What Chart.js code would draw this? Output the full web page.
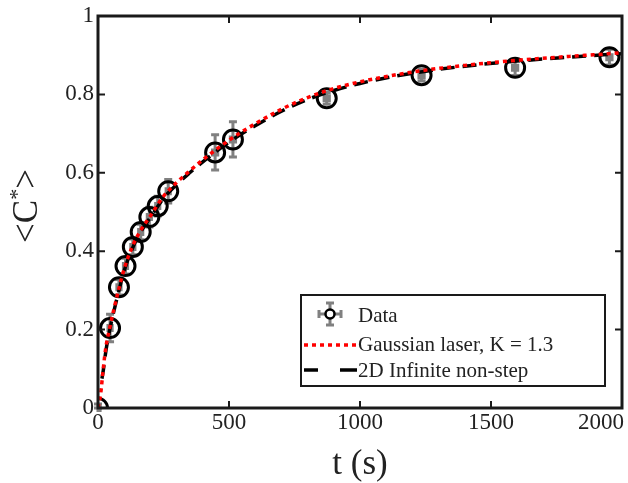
<!DOCTYPE html>
<html>
<head>
    <title>C* recovery</title>
    <script src="https://cdn.jsdelivr.net/npm/chart.js"></script>
    <style>
        body { margin: 0; background: #fff; }
    </style>
</head>
<body>
    <canvas id="plot" width="628" height="483"></canvas>

    <script>
        // measured points (t in s, <C*>, errors)
        var dataT    = [0, 46, 80, 105, 133, 163, 196, 228, 268, 447, 515, 873, 1235, 1592, 1952];
        var dataC    = [0, 0.204, 0.308, 0.362, 0.411, 0.449, 0.487, 0.515, 0.553, 0.652, 0.685, 0.79, 0.849, 0.868, 0.895];
        var dataCErr = [0.01, 0.035, 0.02, 0.02, 0.02, 0.02, 0.025, 0.025, 0.03, 0.045, 0.045, 0.015, 0.015, 0.02, 0.02];
        var dataTErr = [8, 8, 8, 8, 8, 8, 8, 8, 8, 10, 10, 10, 10, 10, 10];

        // Gaussian laser fit, K = 1.3
        var gaussT = [0, 10, 20, 30, 45, 60, 80, 100, 130, 160, 200, 250, 300, 350, 400, 450, 500, 550, 600, 700, 800, 900, 1000, 1200, 1400, 1600, 1800, 2000];
        var gaussC = [0, 0.035, 0.10, 0.155, 0.205, 0.25, 0.305, 0.355, 0.41, 0.45, 0.49, 0.54, 0.575, 0.605, 0.633, 0.659, 0.683, 0.705, 0.725, 0.762, 0.792, 0.815, 0.832, 0.857, 0.874, 0.887, 0.897, 0.906];

        // 2D infinite non-step model
        var infT = [15, 20, 30, 45, 60, 80, 100, 130, 160, 200, 250, 300, 350, 400, 450, 500, 550, 600, 700, 800, 900, 1000, 1200, 1400, 1600, 1800, 2000];
        var infC = [0.075, 0.095, 0.145, 0.2, 0.245, 0.3, 0.35, 0.405, 0.446, 0.486, 0.535, 0.57, 0.6, 0.628, 0.654, 0.678, 0.7, 0.72, 0.757, 0.787, 0.81, 0.828, 0.854, 0.872, 0.885, 0.895, 0.904];

        var xTicks = [0, 500, 1000, 1500, 2000];
        var yTicks = [0, 0.2, 0.4, 0.6, 0.8, 1];

        var serif = "'Liberation Serif', 'Times New Roman', serif";

        function pairs(xs, ys) {
            return xs.map(function(x, i) { return { x: x, y: ys[i] }; });
        }

        // error bars under the circles
        var errorBars = {
            id: 'errorBars',
            beforeDatasetsDraw: function(chart) {
                var ctx = chart.ctx, xs = chart.scales.x, ys = chart.scales.y;
                ctx.save();
                ctx.strokeStyle = '#808080';
                ctx.lineWidth = 3;
                for (var i = 0; i < dataT.length; i++) {
                    var px = xs.getPixelForValue(dataT[i]);
                    var py = ys.getPixelForValue(dataC[i]);
                    var top = ys.getPixelForValue(dataC[i] + dataCErr[i]);
                    var bot = ys.getPixelForValue(Math.max(0, dataC[i] - dataCErr[i]));
                    var lft = xs.getPixelForValue(Math.max(0, dataT[i] - dataTErr[i]));
                    var rgt = xs.getPixelForValue(dataT[i] + dataTErr[i]);
                    ctx.beginPath();
                    ctx.moveTo(px, top); ctx.lineTo(px, bot);
                    ctx.moveTo(px - 4, top); ctx.lineTo(px + 4, top);
                    ctx.moveTo(px - 4, bot); ctx.lineTo(px + 4, bot);
                    ctx.moveTo(lft, py); ctx.lineTo(rgt, py);
                    ctx.moveTo(lft, py - 4); ctx.lineTo(lft, py + 4);
                    ctx.moveTo(rgt, py - 4); ctx.lineTo(rgt, py + 4);
                    ctx.stroke();
                }
                ctx.restore();
            }
        };

        // matlab style box, inward ticks, labels, titles and legend
        var frame = {
            id: 'frame',
            afterDraw: function(chart) {
                var ctx = chart.ctx, a = chart.chartArea;
                var xs = chart.scales.x, ys = chart.scales.y;
                ctx.save();
                ctx.strokeStyle = '#1a1a1a';
                ctx.lineWidth = 3;
                ctx.strokeRect(a.left, a.top, a.right - a.left, a.bottom - a.top);

                ctx.lineWidth = 2;
                ctx.beginPath();
                xTicks.forEach(function(v) {
                    var p = xs.getPixelForValue(v);
                    ctx.moveTo(p, a.bottom); ctx.lineTo(p, a.bottom - 7);
                    ctx.moveTo(p, a.top); ctx.lineTo(p, a.top + 7);
                });
                yTicks.forEach(function(v) {
                    var p = ys.getPixelForValue(v);
                    ctx.moveTo(a.left, p); ctx.lineTo(a.left + 7, p);
                    ctx.moveTo(a.right, p); ctx.lineTo(a.right - 7, p);
                });
                ctx.stroke();

                ctx.fillStyle = '#222';
                ctx.font = '23px ' + serif;
                ctx.textBaseline = 'middle';
                ctx.textAlign = 'right';
                yTicks.forEach(function(v) {
                    ctx.fillText(String(v), a.left - 4, ys.getPixelForValue(v));
                });
                ctx.textBaseline = 'top';
                xTicks.forEach(function(v, i) {
                    var p = xs.getPixelForValue(v);
                    if (i === xTicks.length - 1) {
                        ctx.textAlign = 'right';
                        ctx.fillText(String(v), 624, a.bottom + 3);
                    } else {
                        ctx.textAlign = 'center';
                        ctx.fillText(String(v), p, a.bottom + 3);
                    }
                });

                // axis titles
                ctx.textAlign = 'center';
                ctx.textBaseline = 'alphabetic';
                ctx.font = '35px ' + serif;
                ctx.fillText('t (s)', 360, 474);

                ctx.save();
                ctx.translate(37, 206);
                ctx.rotate(-Math.PI / 2);
                ctx.font = '35px ' + serif;
                ctx.textAlign = 'left';
                var w1 = ctx.measureText('<C').width;
                ctx.font = '22px ' + serif;
                var w2 = ctx.measureText('*').width;
                ctx.font = '35px ' + serif;
                var w3 = ctx.measureText('>').width;
                var x0 = -(w1 + w2 + w3) / 2;
                ctx.fillText('<C', x0, 0);
                ctx.font = '22px ' + serif;
                ctx.fillText('*', x0 + w1, -13);
                ctx.font = '35px ' + serif;
                ctx.fillText('>', x0 + w1 + w2, 0);
                ctx.restore();

                // legend
                var lx = 301, ly = 295, lw = 304, lh = 91;
                ctx.fillStyle = '#fff';
                ctx.fillRect(lx, ly, lw, lh);
                ctx.strokeStyle = '#1a1a1a';
                ctx.lineWidth = 2;
                ctx.strokeRect(lx, ly, lw, lh);

                var mx = 330, my = 314;
                ctx.strokeStyle = '#808080';
                ctx.lineWidth = 3;
                ctx.beginPath();
                ctx.moveTo(mx - 11, my); ctx.lineTo(mx + 11, my);
                ctx.moveTo(mx - 11, my - 4); ctx.lineTo(mx - 11, my + 4);
                ctx.moveTo(mx + 11, my - 4); ctx.lineTo(mx + 11, my + 4);
                ctx.moveTo(mx, my - 11); ctx.lineTo(mx, my + 11);
                ctx.moveTo(mx - 4, my - 11); ctx.lineTo(mx + 4, my - 11);
                ctx.moveTo(mx - 4, my + 11); ctx.lineTo(mx + 4, my + 11);
                ctx.stroke();
                ctx.beginPath();
                ctx.arc(mx, my, 4.5, 0, Math.PI * 2);
                ctx.fillStyle = '#fff';
                ctx.fill();
                ctx.strokeStyle = '#000';
                ctx.lineWidth = 2.5;
                ctx.stroke();

                ctx.lineWidth = 3.5;
                ctx.strokeStyle = '#ff0000';
                ctx.setLineDash([4, 4]);
                ctx.beginPath();
                ctx.moveTo(304, 345); ctx.lineTo(357, 345);
                ctx.stroke();
                ctx.strokeStyle = '#000';
                ctx.setLineDash([]);
                ctx.beginPath();
                ctx.moveTo(304, 370); ctx.lineTo(318, 370);
                ctx.moveTo(340, 370); ctx.lineTo(357, 370);
                ctx.stroke();

                ctx.fillStyle = '#222';
                ctx.font = '21px ' + serif;
                ctx.textAlign = 'left';
                ctx.textBaseline = 'middle';
                ctx.fillText('Data', 358, 316);
                ctx.fillText('Gaussian laser, K = 1.3', 358, 345);
                ctx.fillText('2D Infinite non-step', 358, 371);
                ctx.restore();
            }
        };

        new Chart(document.getElementById('plot'), {
            type: 'scatter',
            data: {
                datasets: [{
                    label: 'Gaussian laser, K = 1.3',
                    data: pairs(gaussT, gaussC),
                    showLine: true,
                    borderColor: '#ff0000',
                    borderWidth: 3.5,
                    borderDash: [4, 4],
                    pointRadius: 0,
                    cubicInterpolationMode: 'monotone'
                }, {
                    label: '2D Infinite non-step',
                    data: pairs(infT, infC),
                    showLine: true,
                    borderColor: '#000',
                    borderWidth: 3.5,
                    borderDash: [14, 8],
                    pointRadius: 0,
                    cubicInterpolationMode: 'monotone'
                }, {
                    label: 'Data',
                    data: pairs(dataT, dataC),
                    showLine: false,
                    pointRadius: 9.5,
                    borderWidth: 3,
                    borderColor: '#000',
                    backgroundColor: 'rgba(0,0,0,0)'
                }]
            },
            options: {
                responsive: false,
                animation: false,
                maintainAspectRatio: false,
                layout: { autoPadding: false, padding: { top: 16, right: 6, left: 0, bottom: 0 } },
                plugins: { legend: { display: false }, tooltip: { enabled: false } },
                scales: {
                    x: {
                        type: 'linear', min: 0, max: 2000,
                        ticks: { display: false, stepSize: 500 },
                        grid: { display: false },
                        border: { display: false },
                        afterFit: function(s) { s.height = 75; s.paddingRight = 0; }
                    },
                    y: {
                        min: 0, max: 1,
                        ticks: { display: false, stepSize: 0.2 },
                        grid: { display: false },
                        border: { display: false },
                        afterFit: function(s) { s.width = 98; }
                    }
                }
            },
            plugins: [errorBars, frame]
        });
    </script>
</body>
</html>
